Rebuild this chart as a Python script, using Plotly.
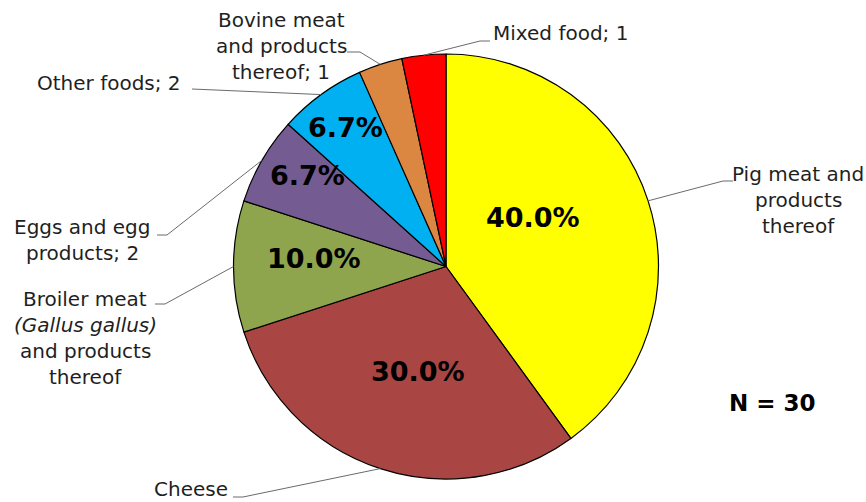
import math
import plotly.graph_objects as go

# ---------------- data ----------------
categories = [
    "Pig meat and products thereof",
    "Cheese",
    "Broiler meat (Gallus gallus) and products thereof",
    "Eggs and egg products",
    "Other foods",
    "Bovine meat and products thereof",
    "Mixed food",
]
counts = [12, 9, 3, 2, 2, 1, 1]
label_lines = [
    ["Pig meat and", "products", "thereof"],
    ["Cheese"],
    ["Broiler meat", "<i>(Gallus gallus)</i>", "and products", "thereof"],
    ["Eggs and egg", "products; 2"],
    ["Other foods; 2"],
    ["Bovine meat", "and products", "thereof; 1"],
    ["Mixed food; 1"],
]
total = sum(counts)

# ---------------- style / layout ----------------
colors = ["#FFFF00", "#A94543", "#8EA54E", "#745B92", "#00B0F0", "#DC8741", "#FF0000"]
W, H = 866, 502
CX, CY, R = 446, 266.5, 212.5
FONT = "DejaVu Sans"
TXT = "#1f1f1f"

# label block placement: (x, first-line y, xanchor)
label_pos = [
    (798, 174, "center"),
    (230, 489, "right"),
    (85, 299, "center"),
    (82, 227, "center"),
    (183, 83, "right"),
    (281, 20, "center"),
    (491, 33, "left"),
]
line_step = [26, 26, 26, 26, 26, 26, 26]
# leader line elbow and end points
elbows = [(723, 181), (243, 497), (165, 304), (167, 235), (192, 89), (360, 52), (480, 41)]
ends = [(733, 181), (233, 497), (155, 304), (157, 235), (192, 89), (347, 52), (490, 41)]
# percentage label placement: radial fraction and angle offset (deg)
pct_r = [0.47, 0.51, 0.62, 0.78, 0.81, 0, 0]
pct_da = [-11.6, -3.1, 3.3, 3.4, 0.1, 0, 0]


def px(x):
    return x / W


def py(y):
    return 1 - y / H


fig = go.Figure()
fig.add_trace(go.Pie(
    labels=categories,
    values=counts,
    sort=False,
    direction="clockwise",
    rotation=0,
    textinfo="none",
    hoverinfo="label+value+percent",
    marker=dict(colors=colors, line=dict(color="#000000", width=1.2)),
    domain=dict(x=[px(CX - R), px(CX + R)], y=[py(CY + R), py(CY - R)]),
    showlegend=False,
))

annotations = []
shapes = []
cum = 0
for i, c in enumerate(counts):
    mid = (cum + c / 2) / total * 360.0
    cum += c
    a = math.radians(mid)
    ex, ey = CX + R * math.sin(a), CY - R * math.cos(a)
    (bx, by), (fx, fy) = elbows[i], ends[i]
    shapes.append(dict(
        type="path", xref="paper", yref="paper",
        path=f"M {px(ex)},{py(ey)} L {px(bx)},{py(by)} L {px(fx)},{py(fy)}",
        line=dict(color="#6b6b6b", width=1),
    ))
    lx, ly, anc = label_pos[i]
    for j, t in enumerate(label_lines[i]):
        annotations.append(dict(
            x=px(lx), y=py(ly + j * line_step[i]), xref="paper", yref="paper",
            text=t, showarrow=False, xanchor=anc, yanchor="middle",
            font=dict(family=FONT, size=20, color=TXT),
        ))
    if c >= 2:
        pa = math.radians(mid + pct_da[i])
        rr = R * pct_r[i]
        tx, ty = CX + rr * math.sin(pa), CY - rr * math.cos(pa)
        annotations.append(dict(
            x=px(tx), y=py(ty), xref="paper", yref="paper",
            text=f"<b>{100 * c / total:.1f}%</b>", showarrow=False,
            xanchor="center", yanchor="middle",
            font=dict(family=FONT, size=27, color="#000000"),
        ))

annotations.append(dict(
    x=px(772), y=py(403), xref="paper", yref="paper",
    text=f"<b>N = {total}</b>", showarrow=False, xanchor="center", yanchor="middle",
    font=dict(family=FONT, size=23, color="#000000"),
))

fig.update_layout(
    width=W, height=H,
    margin=dict(l=0, r=0, t=0, b=0),
    paper_bgcolor="#FFFFFF",
    plot_bgcolor="#FFFFFF",
    annotations=annotations,
    shapes=shapes,
)

fig.write_html(
    "out.html",
    config={"displayModeBar": False},
    post_script="document.body.style.margin='0';document.body.style.overflow='hidden';",
)
